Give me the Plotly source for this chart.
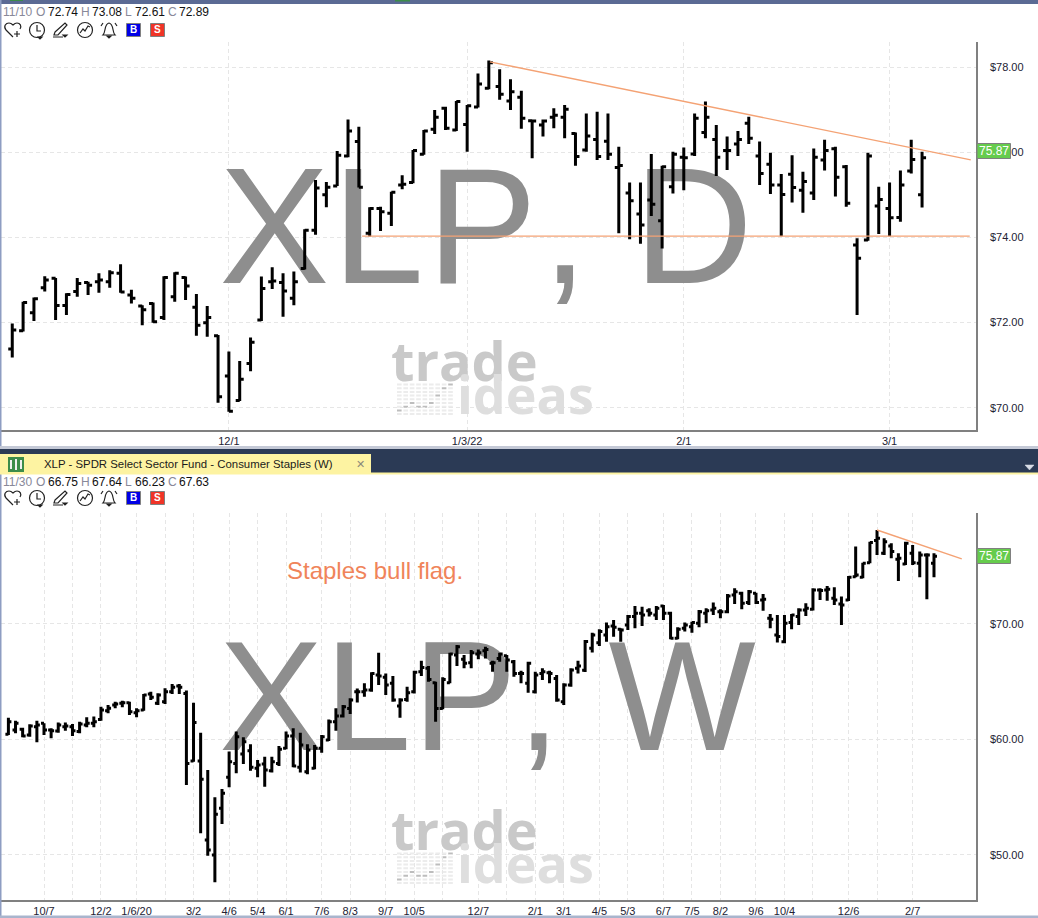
import plotly.graph_objects as go

W = 1038
H = 918

# daily panel
top_open = [71.38, 71.81, 72.23, 72.82, 73.04, 72.40, 72.73, 72.94, 72.96, 72.96,
            73.16, 72.65, 72.39, 72.45, 72.12, 72.61, 73.06, 72.36, 72.00, 71.69,
            70.75, 70.17, 71.04, 72.06, 72.96, 72.94, 72.57, 73.27, 74.17, 75.00,
            75.21, 75.91, 76.25, 74.10, 74.68, 74.57, 75.23, 75.29, 75.95, 76.54,
            77.03, 76.52, 76.65, 77.06, 77.50, 77.54, 77.20, 77.29, 76.74, 76.64,
            76.82, 76.82, 76.44, 76.05, 76.30, 76.26, 75.64, 75.04, 74.55, 74.88,
            74.39, 75.19, 75.88, 75.96, 76.46, 76.30, 76.04, 76.19, 76.68, 75.91,
            75.72, 75.23, 75.48, 75.11, 75.04, 75.82, 76.08, 75.66, 73.82, 73.94,
            74.74, 74.68, 74.47, 75.56, 75.00]
top_high = [71.98, 72.49, 72.59, 73.09, 73.05, 72.69, 73.05, 72.96, 73.16, 73.23,
            73.37, 72.77, 72.41, 72.47, 73.09, 73.18, 73.08, 72.67, 72.39, 71.71,
            71.32, 71.10, 71.65, 73.08, 73.30, 73.16, 73.20, 74.19, 75.35, 75.30,
            76.03, 76.77, 76.60, 74.71, 74.72, 75.07, 75.46, 76.05, 76.52, 76.99,
            77.07, 77.20, 77.11, 77.85, 78.15, 77.95, 77.71, 77.44, 76.76, 76.77,
            77.03, 77.11, 76.46, 76.91, 76.95, 76.91, 76.13, 75.29, 75.29, 75.96,
            75.68, 76.01, 76.11, 76.91, 77.19, 76.64, 76.37, 76.50, 76.83, 76.25,
            75.99, 75.49, 75.93, 75.54, 76.09, 76.29, 76.13, 75.70, 73.98, 75.99,
            75.19, 75.29, 75.57, 76.29, 76.01]
top_low = [71.18, 71.79, 72.04, 72.73, 72.06, 72.18, 72.61, 72.65, 72.70, 72.82,
           72.70, 72.45, 71.94, 72.00, 72.06, 72.49, 72.53, 71.69, 71.67, 70.12,
           69.91, 70.16, 70.86, 72.04, 72.79, 72.14, 72.41, 73.25, 74.06, 74.71,
           75.21, 75.88, 75.17, 74.02, 74.15, 74.27, 75.13, 75.27, 75.94, 76.43,
           76.52, 76.50, 76.01, 77.05, 77.48, 77.23, 76.99, 76.55, 75.86, 76.37,
           76.56, 76.33, 75.68, 76.01, 75.82, 75.82, 74.10, 73.96, 73.85, 74.50,
           73.74, 75.03, 75.11, 75.91, 76.33, 75.44, 75.58, 75.91, 76.19, 75.23,
           75.02, 74.03, 74.82, 74.58, 74.88, 75.57, 74.96, 74.72, 72.18, 73.92,
           74.08, 74.03, 74.37, 75.50, 74.70]
top_close = [71.83, 72.47, 72.56, 73.00, 72.40, 72.66, 72.92, 72.88, 73.00, 73.17,
             72.72, 72.57, 72.30, 72.02, 73.06, 73.16, 72.86, 71.94, 72.12, 70.26,
             69.92, 70.67, 71.54, 72.80, 72.98, 72.74, 72.96, 74.17, 75.16, 75.18,
             75.93, 76.50, 75.18, 74.68, 74.60, 75.06, 75.25, 76.04, 76.50, 76.82,
             76.56, 77.19, 77.09, 77.60, 78.10, 77.36, 77.42, 76.80, 76.73, 76.73,
             76.87, 77.01, 75.90, 76.38, 75.90, 75.95, 75.69, 74.86, 74.29, 74.78,
             75.66, 75.95, 75.87, 76.80, 76.82, 75.88, 76.04, 76.30, 76.33, 75.50,
             75.23, 75.01, 75.17, 75.31, 75.88, 76.04, 75.41, 74.80, 73.51, 75.91,
             74.89, 74.46, 75.23, 75.83, 75.87]
top_tick_bars = [20, 42, 62, 81]
top_tick_text = ["12/1", "1/3/22", "2/1", "3/1"]
top_prices = [70, 72, 74, 76, 78]
top_trend_x = [44.1, 88.5]
top_trend_y = [78.12, 75.82]
top_support_x = [32.3, 88.4]
top_support_y = [74.03, 74.03]

# weekly panel
bot_open = [60.45, 60.82, 60.88, 60.39, 61.11, 61.40, 60.82, 60.73, 61.11, 61.11,
            60.68, 61.25, 61.40, 61.74, 62.49, 62.99, 63.13, 63.19, 62.32, 62.55,
            63.94, 63.13, 63.27, 64.14, 64.63, 63.99, 58.14, 58.14, 51.30, 50.00,
            54.04, 56.72, 57.93, 58.74, 59.03, 57.50, 57.88, 57.30, 57.93, 59.23,
            60.30, 57.59, 57.21, 57.50, 59.23, 59.96, 61.54, 62.03, 62.69, 64.14,
            64.14, 64.28, 65.58, 65.38, 64.86, 62.90, 63.47, 64.14, 65.87, 66.16,
            64.92, 62.69, 64.92, 67.31, 66.94, 66.65, 67.40, 67.69, 66.59, 67.02,
            67.25, 66.73, 65.72, 64.86, 64.14, 65.72, 65.78, 65.29, 63.27, 64.71,
            66.16, 65.99, 67.89, 68.38, 69.05, 69.83, 69.54, 69.91, 70.64, 70.92,
            71.15, 70.78, 71.56, 70.92, 68.76, 69.63, 69.77, 70.06, 70.92, 71.21,
            71.07, 71.07, 72.51, 72.66, 71.85, 72.66, 72.08, 70.50, 69.05, 68.47,
            70.12, 70.64, 71.22, 71.27, 72.95, 72.95, 72.23, 71.74, 72.08, 74.10,
            74.05, 75.31, 77.22, 76.12, 76.76, 75.60, 75.20, 76.12, 75.26, 75.98, 75.26]
bot_high = [61.89, 61.63, 61.02, 61.31, 61.63, 61.40, 60.97, 61.46, 61.46, 61.34,
            61.54, 61.92, 61.98, 62.84, 62.99, 63.27, 63.36, 63.27, 62.70, 63.94,
            64.14, 64.00, 64.43, 64.80, 64.80, 64.23, 63.19, 60.59, 57.36, 54.99,
            55.71, 58.95, 60.68, 60.19, 59.58, 58.22, 58.51, 58.51, 59.44, 60.68,
            60.97, 60.59, 59.58, 59.52, 60.39, 61.74, 62.70, 62.98, 63.56, 64.42,
            64.86, 65.81, 67.51, 65.72, 65.49, 63.56, 64.57, 65.96, 66.82, 66.36,
            65.00, 65.38, 67.51, 68.18, 67.31, 67.74, 67.80, 68.03, 66.82, 67.51,
            67.31, 66.88, 65.96, 66.73, 65.87, 66.16, 65.96, 65.58, 64.86, 66.16,
            66.82, 68.61, 69.25, 69.54, 70.12, 70.35, 69.63, 70.78, 71.56, 71.50,
            71.36, 71.56, 71.65, 71.07, 69.71, 70.12, 70.20, 71.21, 71.36, 71.85,
            71.27, 72.60, 73.09, 72.80, 72.94, 72.71, 72.60, 70.87, 70.78, 70.78,
            70.87, 71.36, 71.79, 73.09, 73.09, 73.29, 73.18, 72.37, 74.16, 76.70,
            75.31, 77.13, 78.14, 77.42, 76.99, 76.12, 77.13, 76.84, 76.27, 76.12, 76.12]
bot_low = [60.39, 60.53, 60.19, 60.24, 59.75, 60.39, 60.10, 60.59, 60.76, 60.30,
           60.53, 61.05, 61.05, 61.63, 62.26, 62.70, 62.78, 62.12, 61.92, 62.49,
           63.42, 62.99, 63.07, 63.94, 63.94, 56.06, 58.08, 51.87, 49.94, 47.63,
           52.68, 55.86, 57.07, 57.88, 57.30, 56.72, 55.91, 57.13, 57.70, 59.15,
           57.59, 57.13, 56.98, 57.42, 58.86, 59.87, 60.76, 61.91, 62.20, 63.21,
           63.70, 64.14, 64.71, 63.85, 63.27, 61.89, 63.27, 63.99, 65.49, 65.00,
           61.54, 62.61, 64.86, 66.36, 66.16, 66.16, 66.94, 67.02, 65.87, 66.73,
           65.87, 65.43, 64.86, 64.05, 63.99, 65.15, 64.86, 63.27, 62.98, 64.57,
           65.72, 65.84, 67.52, 68.10, 68.47, 68.90, 68.47, 69.48, 69.63, 69.83,
           70.64, 70.35, 70.35, 68.67, 68.67, 69.34, 69.25, 69.71, 70.06, 70.78,
           70.49, 70.92, 71.73, 71.27, 71.65, 71.73, 71.15, 69.63, 68.39, 68.33,
           69.54, 69.92, 70.70, 71.16, 72.08, 72.02, 71.65, 69.92, 71.99, 74.05,
           73.96, 75.26, 75.98, 75.98, 75.69, 73.73, 75.11, 75.11, 74.05, 72.14, 74.05]
bot_close = [61.54, 61.40, 60.30, 61.17, 61.25, 60.82, 60.76, 61.25, 61.17, 60.76,
             61.34, 61.40, 61.54, 62.55, 62.70, 63.07, 63.19, 62.41, 62.49, 63.85,
             63.65, 63.85, 64.14, 64.52, 64.52, 57.93, 61.46, 56.55, 50.43, 53.52,
             55.34, 58.08, 60.24, 59.81, 57.59, 57.79, 57.36, 58.08, 59.15, 60.30,
             57.70, 59.52, 59.09, 59.23, 60.24, 61.54, 62.03, 62.84, 63.41, 64.14,
             64.28, 65.72, 65.49, 64.71, 63.41, 63.41, 64.05, 65.81, 66.24, 65.20,
             62.69, 65.20, 67.40, 68.03, 66.59, 67.51, 67.51, 67.80, 66.65, 67.40,
             66.88, 65.72, 65.72, 66.59, 65.58, 65.87, 65.72, 63.41, 64.71, 66.01,
             66.36, 68.48, 69.05, 69.34, 69.77, 69.71, 69.48, 70.64, 70.92, 70.78,
             70.92, 71.36, 70.92, 68.76, 69.54, 69.91, 70.12, 71.07, 71.15, 71.36,
             71.07, 72.42, 72.80, 71.79, 72.80, 71.85, 72.14, 70.40, 68.91, 70.06,
             70.78, 71.22, 71.36, 72.95, 72.89, 73.01, 72.08, 71.65, 74.05, 74.25,
             75.26, 77.05, 77.42, 77.13, 76.27, 75.69, 76.99, 75.31, 75.98, 75.98, 75.87]
bot_tick_bars = [5, 9, 13, 18, 22, 26, 31, 35, 39, 44, 48, 53, 57, 61, 66, 70, 74, 78,
                 83, 87, 92, 96, 100, 105, 109, 113, 118, 122, 127]
bot_tick_text = ["10/7", "", "12/2", "1/6/20", "", "3/2", "4/6", "5/4", "6/1", "7/6", "8/3",
                 "9/7", "10/5", "", "12/7", "", "2/1", "3/1", "4/5", "5/3", "6/7", "7/5",
                 "8/2", "9/6", "10/4", "", "12/6", "", "2/7"]
bot_prices = [50, 60, 70]
bot_trend_x = [122.0, 133.9]
bot_trend_y = [78.14, 75.63]

BLACK_LINE = dict(line=dict(color="black", width=3))
TREND = "#f4a274"
SANS = "Liberation Sans"


def ohlc(o, h, l, c, xa, ya, tick):
    return go.Ohlc(x=list(range(len(o))), open=o, high=h, low=l, close=c,
                   increasing=BLACK_LINE, decreasing=BLACK_LINE, tickwidth=tick,
                   xaxis=xa, yaxis=ya, hoverinfo="skip", showlegend=False)


def trend(xs, ys, xa, ya):
    return go.Scatter(x=xs, y=ys, mode="lines", line=dict(color=TREND, width=1.4),
                      xaxis=xa, yaxis=ya, hoverinfo="skip", showlegend=False)


def watermark(text, x, y, size, xa, ya):
    return go.Scatter(x=[x], y=[y], text=[text], mode="text", textposition="middle right",
                      textfont=dict(family=SANS, size=size, color="#8e8e8e"),
                      xaxis=xa, yaxis=ya, hoverinfo="skip", showlegend=False)


fig = go.Figure()
# big ticker text sits on the base axes so the bars on the overlaying axes draw over it
fig.add_trace(watermark('<span style="letter-spacing:3px">XL</span><span style="letter-spacing:5px">P</span>, D',
                        19.1, 73.91, 165, "x", "y"))
fig.add_trace(watermark('<span style="letter-spacing:1.5px">XL</span>P<span style="letter-spacing:2.5px">, </span>W',
                        29.58, 62.47, 156, "x2", "y2"))
fig.add_trace(ohlc(top_open, top_high, top_low, top_close, "x3", "y3", 0.37))
fig.add_trace(ohlc(bot_open, bot_high, bot_low, bot_close, "x4", "y4", 0.42))
fig.add_trace(trend(top_trend_x, top_trend_y, "x3", "y3"))
fig.add_trace(trend(top_support_x, top_support_y, "x3", "y3"))
fig.add_trace(trend(bot_trend_x, bot_trend_y, "x4", "y4"))

top_xrange = [-1.04, 88.98]
top_yrange = [69.48, 78.587]
bot_xrange = [-1.04, 135.9]
bot_yrange = [46.10, 79.61]
xdom = [1 / W, 976 / W]
GRID = dict(gridcolor="#e6e6e6", griddash="4px,3px", gridwidth=1, zeroline=False,
            showline=True, linecolor="#808080", linewidth=1.5, ticks="")
XFONT = dict(family=SANS, size=11, color="#222233")


def rows(top, bottom):
    return [1 - bottom / H, 1 - top / H]


fig.update_layout(
    width=W, height=H, margin=dict(l=0, r=0, t=0, b=0),
    paper_bgcolor="white", plot_bgcolor="white", showlegend=False,
    font=dict(family=SANS),
    xaxis=dict(domain=xdom, range=top_xrange, tickmode="array", tickvals=top_tick_bars,
               ticktext=top_tick_text, tickfont=XFONT, rangeslider=dict(visible=False), anchor="y", **GRID),
    yaxis=dict(domain=rows(42, 430), range=top_yrange, side="right", tickmode="array",
               tickvals=top_prices, ticktext=[f"${p:.2f}" for p in top_prices], tickfont=XFONT,
               ticklabelstandoff=10, anchor="x", **GRID),
    xaxis2=dict(domain=xdom, range=bot_xrange, tickmode="array", tickvals=bot_tick_bars,
                ticktext=bot_tick_text, tickfont=XFONT, rangeslider=dict(visible=False), anchor="y2", **GRID),
    yaxis2=dict(domain=rows(513, 900), range=bot_yrange, side="right", tickmode="array",
                tickvals=bot_prices, ticktext=[f"${p:.2f}" for p in bot_prices], tickfont=XFONT,
                ticklabelstandoff=10, anchor="x2", **GRID),
    xaxis3=dict(overlaying="x", range=top_xrange, visible=False, anchor="y3", rangeslider=dict(visible=False)),
    yaxis3=dict(overlaying="y", range=top_yrange, visible=False, anchor="x3"),
    xaxis4=dict(overlaying="x2", range=bot_xrange, visible=False, anchor="y4", rangeslider=dict(visible=False)),
    yaxis4=dict(overlaying="y2", range=bot_yrange, visible=False, anchor="x4"),
)


def to_paper(d, dy=0):
    out = []
    is_x = True
    for tok in d.split():
        if tok.isalpha():
            out.append(tok)
            is_x = True
        else:
            val = float(tok)
            out.append(str(val / W if is_x else 1 - (val + dy) / H))
            is_x = not is_x
    return " ".join(out)


def box(x0, y0, x1, y1, fill, edge=None, layer="above"):
    fig.add_shape(type="rect", xref="paper", yref="paper", x0=x0 / W, x1=x1 / W,
                  y0=1 - y0 / H, y1=1 - y1 / H, fillcolor=fill, layer=layer,
                  line=dict(color=edge or fill, width=1 if edge else 0))


def stroke(d, dy=0, color="#222222", width=1.2, fill=None):
    fig.add_shape(type="path", xref="paper", yref="paper", path=to_paper(d, dy),
                  line=dict(color=color, width=width), fillcolor=fill)


def ring(cx, cy, r):
    fig.add_shape(type="circle", xref="paper", yref="paper", x0=(cx - r) / W, x1=(cx + r) / W,
                  y0=1 - (cy + r) / H, y1=1 - (cy - r) / H, line=dict(color="#222222", width=1.2))


def label(x, y, text, size=12, color="#111111", family=SANS, xanchor="left", bold=False):
    fig.add_annotation(xref="paper", yref="paper", x=x / W, y=1 - y / H, text=f"<b>{text}</b>" if bold else text,
                       showarrow=False, xanchor=xanchor, yanchor="middle", borderpad=0, align="left",
                       font=dict(family=family, size=size, color=color))


def quote_line(y, date, quotes):
    label(2, y, date, color="#888899")
    for lx, vx, name, val in quotes:
        label(lx, y, name, color="#888899")
        label(vx, y, val)


def toolbar(dy):
    y = 30 + dy
    stroke("M 13 37 L 6 30 C 3 26 6 23 9 23 C 11 23 12 24 13 25 C 14 24 15 23 17 23 C 20 23 22 26 20 29", dy)
    stroke("M 17 31 L 17 37 M 14 34 L 20 34", dy)
    ring(37, y, 7.5)
    stroke("M 37 25 L 37 31 L 41 31", dy)
    stroke("M 38 37 L 42 37 L 40 39 Z", dy, fill="#222222")
    stroke("M 55 32 L 65 23 L 67 25 L 58 35 L 54 35 Z M 53 37 L 63 37", dy)
    stroke("M 63 35 L 67 35 L 65 37 Z", dy, fill="#222222")
    ring(85, y, 7.5)
    stroke("M 80 33 L 83 29 L 85 31 L 88 26 L 90 27", dy)
    stroke("M 103 35 C 106 32 104 24 109 23 C 114 24 112 32 115 35 Z M 101 26 L 103 23 M 117 26 L 115 23", dy)
    stroke("M 107 36 L 111 36 L 109 38 Z", dy, fill="#222222")
    box(126.5, 23.5 + dy, 140.5, 36.5 + dy, "#0000e6", "#808080")
    box(150.5, 23.5 + dy, 164.5, 36.5 + dy, "#f03427", "#808080")
    label(133.5, y, "B", size=10, color="white", xanchor="center", bold=True)
    label(157.5, y, "S", size=10, color="white", xanchor="center", bold=True)


def logo(dy):
    label(390, 360 + dy, "trade", size=54, color="#c9c9c9", family="Open Sans", bold=True)
    label(456, 393 + dy, "ideas", size=52, color="#dedede", family="Open Sans", bold=True)
    pale = []
    dark = []
    levels = [2, 3, 4, 3, 3, 4, 6, 8, 9]
    for col in range(9):
        for row in range(9):
            x = 397 + col * 6.4
            y = 852.5 + row * 3.7 - 469 + dy
            cell = f"M {x} {y} L {x + 4.6} {y} L {x + 4.6} {y + 2} L {x} {y + 2} Z "
            if row == 9 - levels[col]:
                dark.append(cell)
            else:
                pale.append(cell)
    for cells, col in [(pale, "#ececec"), (dark, "#bdbdbd")]:
        fig.add_shape(type="path", xref="paper", yref="paper", path=to_paper("".join(cells)),
                      fillcolor=col, line=dict(width=0), layer="below")


def last_price(y, text):
    box(977, y - 7.5, 1010.5, y + 7.5, "#66cc4d", "#808080")
    label(993.5, y, text, size=12, color="white", xanchor="center")


# window chrome
box(0, 0, W, 4, "#5b6a94")
box(10, 0, 23, 1, "#3c8c4a")
box(395, 0, 410, 1.5, "#3c8c4a")
box(0, 0, 1.5, 446, "#8e9dc2")
box(0, 473, 1.5, 916, "#8e9dc2")
box(0, 915.5, W, H, "#a9b5cd")
box(0, 446, W, 449, "#c4c9d6")
box(0, 449, W, 473, "#2b3a55")
box(0, 472.5, W, 474.5, "#fdf3a2")
box(0, 454, 371, 473, "#fdf3a2")
box(8, 457, 24, 472, "#3c8c4a")
stroke("M 11 460 L 11 469 M 16 459 L 16 470 M 21 460 L 21 469", color="#f0f0f0", width=2)
stroke("M 1025 465 L 1034 465 L 1029.5 470 Z", color="#d8dce6", fill="#d8dce6", width=0.5)
label(43, 464, "XLP - SPDR Select Sector Fund - Consumer Staples (W)", size=11.4, color="#1a1a1a")
label(360, 464, "✕", size=11, color="#8a8a7a", xanchor="center")

quote_line(12, "11/10", [(35, 47, "O", "72.74"), (80, 91, "H", "73.08"),
                         (124, 134, "L", "72.61"), (167, 178, "C", "72.89")])
quote_line(482, "11/30", [(35, 47, "O", "66.75"), (80, 91, "H", "67.64"),
                          (124, 134, "L", "66.23"), (167, 178, "C", "67.63")])
toolbar(0)
toolbar(468)
logo(0)
logo(469)
last_price(151, "75.87")
last_price(556, "75.87")
label(286, 570, "Staples bull flag.", size=24, color="#f0845a")

fig.write_html("out.html", post_script="document.body.style.margin='0';",
               config={"displayModeBar": False})
